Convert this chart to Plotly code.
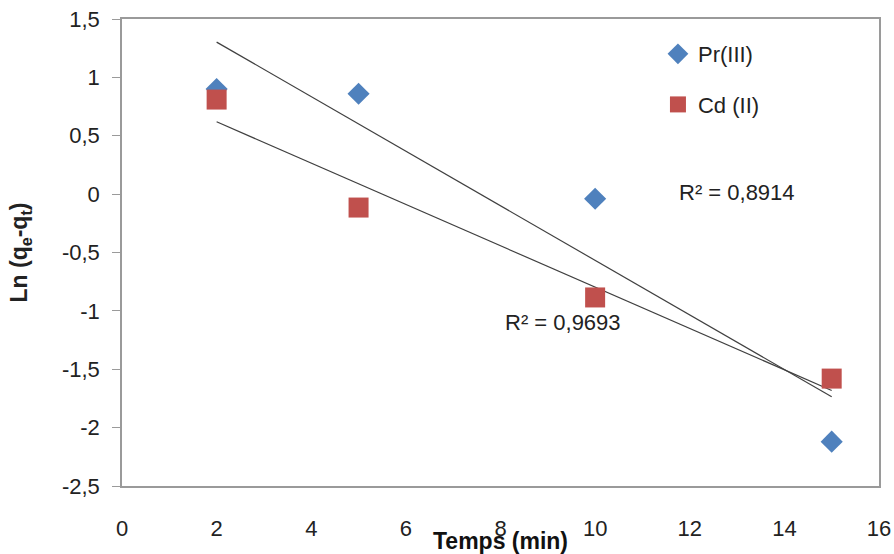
import numpy as np
import plotly.graph_objects as go

temps = [2, 5, 10, 15]
pr_values = [0.90, 0.86, -0.04, -2.12]
cd_values = [0.81, -0.115, -0.885, -1.58]
pr_name = "Pr(III)"
cd_name = "Cd (II)"
pr_r2 = "R² = 0,8914"
cd_r2 = "R² = 0,9693"
x_ticks = [0, 2, 4, 6, 8, 10, 12, 14, 16]
y_ticks = [1.5, 1, 0.5, 0, -0.5, -1, -1.5, -2, -2.5]
y_tick_text = ["1,5", "1", "0,5", "0", "-0,5", "-1", "-1,5", "-2", "-2,5"]

FONT = "Liberation Sans, Arial, sans-serif"
BLUE = "#4F81BD"
RED = "#C0504D"

fig = go.Figure()

def trend(xs, ys):
    m, b = np.polyfit(xs, ys, 1)
    x0, x1 = min(xs), max(xs)
    return [x0, x1], [m * x0 + b, m * x1 + b]

for xs, ys in [(temps, pr_values), (temps, cd_values)]:
    tx, ty = trend(xs, ys)
    fig.add_trace(go.Scatter(x=tx, y=ty, mode="lines",
                             line=dict(color="#404040", width=1.2),
                             showlegend=False, hoverinfo="skip"))

fig.add_trace(go.Scatter(x=temps, y=pr_values, mode="markers", name=pr_name,
                         legendgroup="a",
                         marker=dict(symbol="diamond", size=17, color=BLUE)))
fig.add_trace(go.Scatter(x=temps, y=cd_values, mode="markers", name=cd_name,
                         legendgroup="b",
                         marker=dict(symbol="square", size=20, color=RED)))

fig.add_annotation(x=13.0, y=0.01, text=pr_r2, showarrow=False,
                   xanchor="center", yanchor="middle",
                   font=dict(family=FONT, size=22, color="#222"))
fig.add_annotation(x=9.33, y=-1.10, text=cd_r2, showarrow=False,
                   xanchor="center", yanchor="middle",
                   font=dict(family=FONT, size=22, color="#222"))
fig.add_annotation(x=0.5, y=-0.118, xref="paper", yref="paper",
                   xanchor="center", yanchor="middle",
                   text="<b>Temps (min)</b>", showarrow=False,
                   font=dict(family=FONT, size=23, color="#111"))

fig.update_layout(
    width=894, height=554,
    margin=dict(l=122, r=15, t=19, b=68),
    paper_bgcolor="white", plot_bgcolor="white",
    font=dict(family=FONT, size=22, color="#222"),
    legend=dict(x=0.708, y=0.97, xanchor="left", yanchor="top",
                bgcolor="rgba(0,0,0,0)", tracegroupgap=19,
                font=dict(size=22), itemwidth=30),
)
fig.update_xaxes(range=[0, 16], tickvals=x_ticks, showgrid=False, zeroline=False,
                 showline=True, linecolor="#9a9a9a", linewidth=1.5, mirror=True,
                 ticks="", ticklabelstandoff=22, automargin=False)
fig.update_yaxes(range=[-2.5, 1.5], tickvals=y_ticks, ticktext=y_tick_text,
                 showgrid=False, zeroline=False, showline=True,
                 linecolor="#9a9a9a", linewidth=1.5, mirror=True,
                 ticks="outside", ticklen=8, tickcolor="#9a9a9a",
                 ticklabelstandoff=8, automargin=False,
                 title=dict(text="<b>Ln (q<sub>e</sub>-q<sub>t</sub>)</b>",
                            font=dict(size=23), standoff=28))

fig.write_html("out.html")
